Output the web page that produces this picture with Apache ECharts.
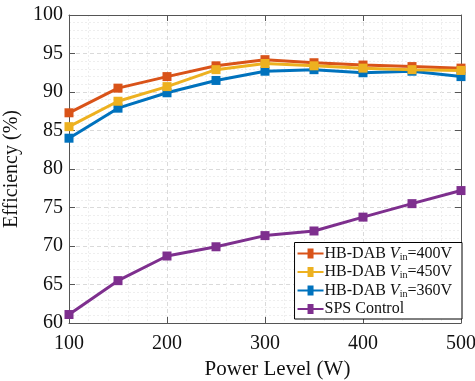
<!DOCTYPE html>
<html><head><meta charset="utf-8">
<script src="https://cdn.jsdelivr.net/npm/echarts@6/dist/echarts.min.js"></script>
<style>html,body{margin:0;padding:0;background:#fff}#c{width:475px;height:381px}</style>
</head><body><div id="c"></div>
<script>
const powerLevels = [100, 150, 200, 250, 300, 350, 400, 450, 500];
const hb400 = [87.3, 90.5, 92.0, 93.4, 94.2, 93.8, 93.5, 93.3, 93.1];
const hb450 = [85.5, 88.8, 90.7, 92.9, 93.7, 93.4, 93.1, 92.9, 92.8];
const hb360 = [84.0, 87.9, 89.9, 91.5, 92.7, 92.9, 92.5, 92.7, 92.0];
const sps = [61.1, 65.5, 68.7, 69.9, 71.35, 71.95, 73.75, 75.5, 77.2];
const yTicks = [60, 65, 70, 75, 80, 85, 90, 95, 100];
const xTicks = [100, 200, 300, 400, 500];
const seriesNames = ['HB-DAB Vin=400V', 'HB-DAB Vin=450V', 'HB-DAB Vin=360V', 'SPS Control'];
const seriesData = [hb400, hb450, hb360, sps];
const colors = ['#D95319', '#EDB120', '#0072BD', '#7E2F8E'];

const font = 'Liberation Serif, Times New Roman, serif';
const chart = echarts.init(document.getElementById('c'), null, {renderer: 'canvas'});

function mk(i) {
  return {
    name: seriesNames[i], type: 'line',
    data: powerLevels.map((p, j) => [p, seriesData[i][j]]),
    symbol: 'rect', symbolSize: 9,
    lineStyle: {color: colors[i], width: 3},
    itemStyle: {color: colors[i]},
    z: [3, 4, 2, 5][i],
    animation: false
  };
}

const axisCommon = {
  axisLine: {show: true, lineStyle: {color: '#555', width: 1}},
  axisTick: {show: true, inside: true, length: 6, lineStyle: {color: '#555'}},
};

chart.setOption({
  animation: false,
  grid: {left: 69, right: 14, top: 15, bottom: 58, containLabel: false, outerBoundsMode: 'none'},
  legend: {
    data: seriesNames,
    orient: 'vertical',
    right: 13, bottom: 62,
    backgroundColor: '#fff',
    borderColor: '#000', borderWidth: 1,
    padding: [3, 10, 2, 3],
    itemGap: 2, itemWidth: 26, itemHeight: 10,
    icon: 'path://M0,4 L10,4 L10,0 L16,0 L16,4 L26,4 L26,6 L16,6 L16,10 L10,10 L10,6 L0,6 Z',
    selectedMode: false,
    textStyle: {
      fontFamily: font, fontSize: 16, color: '#111', padding: [0, 0, 0, -4],
      rich: {
        n: {fontFamily: font, fontSize: 16, color: '#111'},
        v: {fontFamily: font, fontSize: 16, fontStyle: 'italic', color: '#111'},
        s: {fontFamily: font, fontSize: 10, color: '#111', verticalAlign: 'bottom', padding: [7, 0, 0, 0]}
      }
    },
    formatter: function (name) {
      const m = name.match(/^HB-DAB Vin=(.*)$/);
      if (m) return '{n|HB-DAB }{v|V}{s|in}{n|=' + m[1] + '}';
      return '{n|' + name + '}';
    }
  },
  xAxis: [{
    type: 'value', min: 100, max: 500, interval: 100,
    name: 'Power Level (W)', nameLocation: 'middle', nameGap: 35,
    nameTextStyle: {fontFamily: font, fontSize: 21, color: '#111', padding: [0, 0, 0, 25]},
    axisLabel: {fontFamily: font, fontSize: 20, color: '#111', margin: 11,
      formatter: v => xTicks.includes(v) ? String(v) : ''},
    ...axisCommon,
    splitLine: {show: true, lineStyle: {color: '#dadada', type: [4, 3], width: 1}},
    minorTick: {show: true, splitNumber: 5, length: 0},
    minorSplitLine: {show: true, lineStyle: {color: '#eeeeee', type: [2, 2], width: 1}}
  }, {
    type: 'value', min: 100, max: 500, interval: 100, position: 'top',
    axisLabel: {show: false}, ...axisCommon, splitLine: {show: false}
  }],
  yAxis: [{
    type: 'value', min: 60, max: 100, interval: 5,
    name: 'Efficiency (%)', nameLocation: 'middle', nameGap: 37,
    nameTextStyle: {fontFamily: font, fontSize: 20, color: '#111'},
    axisLabel: {fontFamily: font, fontSize: 20, color: '#111', margin: 6,
      formatter: v => yTicks.includes(v) ? String(v) : ''},
    ...axisCommon,
    splitLine: {show: true, lineStyle: {color: '#dadada', type: [4, 3], width: 1}},
    minorTick: {show: true, splitNumber: 5, length: 0},
    minorSplitLine: {show: true, lineStyle: {color: '#eeeeee', type: [2, 2], width: 1}}
  }, {
    type: 'value', min: 60, max: 100, interval: 5, position: 'right',
    axisLabel: {show: false}, ...axisCommon, splitLine: {show: false}
  }],
  series: [0, 1, 2, 3].map(mk)
});
</script></body></html>
